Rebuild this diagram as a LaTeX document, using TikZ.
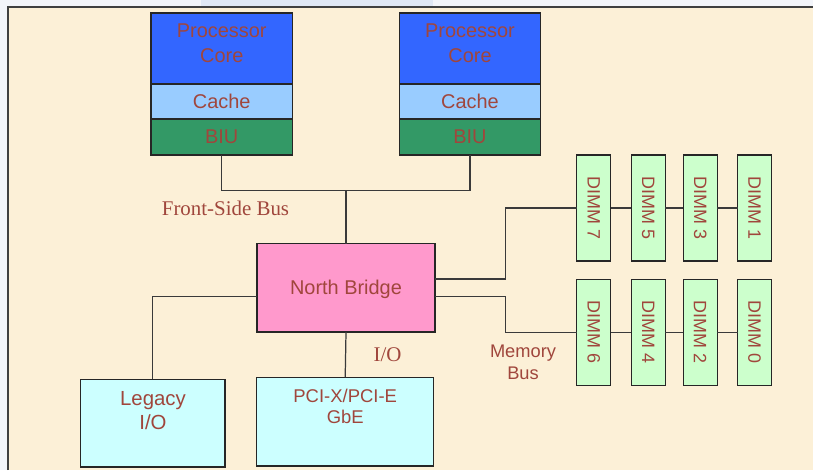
\documentclass[tikz,border=0pt]{standalone}
\usepackage{fontspec}
\setmainfont{Liberation Sans}
\newfontfamily\timesfont{Liberation Serif}
\usetikzlibrary{positioning}

\definecolor{corecol}{HTML}{3366FF}
\definecolor{cachecol}{HTML}{99CCFF}
\definecolor{biucol}{HTML}{339966}
\definecolor{nbcol}{HTML}{FF99CC}
\definecolor{iocol}{HTML}{CCFFFF}
\definecolor{dimmcol}{HTML}{CCFFCC}
\definecolor{txtcol}{RGB}{160,70,60}
\definecolor{wirecol}{HTML}{3A3A3A}
\definecolor{parchcol}{HTML}{FCF0D7}
\definecolor{outcol}{HTML}{F3F5FA}
\definecolor{bandcol}{HTML}{E0E8F5}

\newcommand{\bigtxt}{\fontsize{11.34pt}{13.95pt}\selectfont}
\newcommand{\legtxt}{\fontsize{11.6pt}{14pt}\selectfont}
\newcommand{\pcitxt}{\fontsize{10.5pt}{12.1pt}\selectfont}
\newcommand{\memtxt}{\fontsize{10.4pt}{12.5pt}\selectfont}
\newcommand{\dimmtxt}{\fontsize{10.2pt}{12pt}\selectfont}
\newcommand{\bustxt}{\timesfont\fontsize{11.9pt}{14pt}\selectfont}

\begin{document}
\begin{tikzpicture}[x=0.02cm, y=-0.02cm,
  box/.style={draw=black!85, line width=0.75pt, outer sep=0pt, inner sep=0pt, text=txtcol},
  cpubox/.style={box, minimum width=2.83cm},
  dimm/.style={box, fill=dimmcol, rotate=-90, minimum width=2.12cm, minimum height=0.68cm, font=\dimmtxt},
  lbl/.style={inner sep=0pt, text=txtcol, align=center},
  wire/.style={draw=wirecol, line width=0.7pt}]
\useasboundingbox (0,0) rectangle (813,470);

% backdrop
\fill[outcol] (0,0) rectangle (813,470);
\fill[bandcol] (201,0) rectangle (433,7);
\fill[parchcol] (8,7) rectangle (813,470);
\draw[black!75, line width=0.8pt] (8,470) -- (8,7) -- (813,7);

% processors
\node[cpubox, fill=corecol, minimum height=1.42cm] at (221.75,48.5) (core1) {} ;
\node[cpubox, fill=cachecol, minimum height=0.70cm, font=\bigtxt, below=0pt of core1] (cache1) {Cache} ;
\node[cpubox, fill=biucol, minimum height=0.72cm, font=\bigtxt, below=0pt of cache1] (biu1) {BIU} ;
\node[cpubox, fill=corecol, minimum height=1.42cm] at (470,48.5) (core2) {} ;
\node[cpubox, fill=cachecol, minimum height=0.70cm, font=\bigtxt, below=0pt of core2] (cache2) {Cache} ;
\node[cpubox, fill=biucol, minimum height=0.72cm, font=\bigtxt, below=0pt of cache2] (biu2) {BIU} ;
\node[lbl, font=\bigtxt, anchor=north] at (221.75,23.5) (core1txt) {Processor\\Core} ;
\node[lbl, font=\bigtxt, anchor=north] at (470,23.5) (core2txt) {Processor\\Core} ;

% bridge and i/o
\node[box, fill=nbcol, minimum width=3.56cm, minimum height=1.77cm, font=\bigtxt, text depth=0pt] at (346,287.75) (nb) {North Bridge} ;
\node[box, fill=iocol, minimum width=2.886cm, minimum height=1.754cm] at (152.8,423.2) (legacy) {} ;
\node[box, fill=iocol, minimum width=3.54cm, minimum height=1.774cm] at (345.2,421.7) (pci) {} ;
\node[lbl, font=\legtxt, anchor=north] at (153,391) (legacytxt) {Legacy\\I/O} ;
\node[lbl, font=\pcitxt, anchor=north] at (345.2,389) (pcitxt) {PCI-X/PCI-E\\GbE} ;

% memory
\node[dimm] at (593.7,208) (d7) {DIMM 7} ;
\node[dimm] at (648.2,208) (d5) {DIMM 5} ;
\node[dimm] at (700.2,208) (d3) {DIMM 3} ;
\node[dimm] at (754.5,208) (d1) {DIMM 1} ;
\node[dimm] at (593.7,332.3) (d6) {DIMM 6} ;
\node[dimm] at (648.2,332.3) (d4) {DIMM 4} ;
\node[dimm] at (700.2,332.3) (d2) {DIMM 2} ;
\node[dimm] at (754.5,332.3) (d0) {DIMM 0} ;

\coordinate (fsb) at (346,190.3) ;
\coordinate (mtop) at (505.7,208) ;
\coordinate (mbot) at (505.7,332.3) ;

\draw[wire] (biu1.south) |- (fsb) -| (biu2.south) ;
\draw[wire] (fsb) -- (nb.north) ;
\draw[wire] ([yshift=0.175cm]nb.east) -| (mtop) -- (d7) ;
\draw[wire] ([yshift=-0.179cm]nb.east) -| (mbot) -- (d6) ;
\draw[wire] (d7) -- (d5) -- (d3) -- (d1) ;
\draw[wire] (d6) -- (d4) -- (d2) -- (d0) ;
\draw[wire] ([yshift=-0.179cm]nb.west) -| (legacy.north) ;
\draw[wire] (nb.south) -- (pci.north) ;

\node[lbl, font=\bustxt, anchor=base] at (225.5,215.7) (fsblbl) {Front-Side Bus} ;
\node[lbl, font=\bustxt, anchor=base] at (387.5,361) (iolbl) {I/O} ;
\node[lbl, font=\memtxt, anchor=north] at (523,344.3) (memlbl) {Memory\\Bus} ;
\end{tikzpicture}
\end{document}
